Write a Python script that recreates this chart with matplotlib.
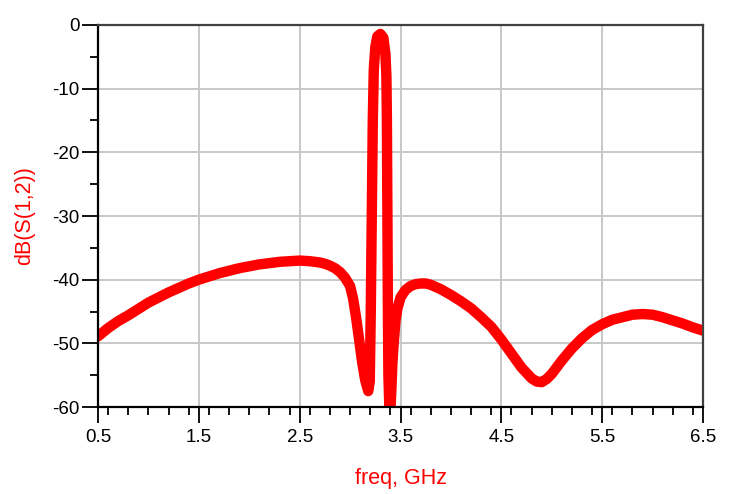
import numpy as np
import matplotlib
matplotlib.use("Agg")
import matplotlib.pyplot as plt
from matplotlib.ticker import MultipleLocator

plt.rcParams['font.family'] = ['Liberation Sans', 'DejaVu Sans']

# S21
freq = [0.5, 0.6, 0.7, 0.8, 0.9, 1.0, 1.1, 1.2, 1.3, 1.4, 1.5, 1.6, 1.7, 1.8,
        1.9, 2.0, 2.1, 2.2, 2.3, 2.4, 2.5, 2.6, 2.7, 2.75, 2.8, 2.85, 2.9,
        2.95, 3.0, 3.03, 3.06, 3.09, 3.12, 3.15, 3.18, 3.195, 3.205, 3.215,
        3.225, 3.235, 3.25, 3.27, 3.30, 3.33, 3.35, 3.36, 3.365, 3.37, 3.375,
        3.38, 3.39, 3.40, 3.41, 3.42, 3.43, 3.45, 3.47, 3.50, 3.55, 3.60,
        3.65, 3.70, 3.75, 3.8, 3.9, 4.0, 4.1, 4.2, 4.3, 4.4, 4.5, 4.6, 4.7,
        4.8, 4.85, 4.9, 4.95, 5.0, 5.1, 5.2, 5.3, 5.4, 5.5, 5.6, 5.7, 5.8,
        5.9, 6.0, 6.1, 6.2, 6.3, 6.4, 6.5]
s21_db = [-48.9, -47.6, -46.5, -45.6, -44.6, -43.6, -42.8, -42.0, -41.3, -40.6,
          -40.0, -39.5, -39.0, -38.6, -38.2, -37.9, -37.6, -37.4, -37.2, -37.1,
          -37.0, -37.1, -37.3, -37.5, -37.8, -38.2, -38.8, -39.7, -41.0, -43.0,
          -46.0, -49.5, -53.0, -55.8, -57.5, -56.0, -45.0, -30.0, -15.0, -7.0,
          -3.5, -1.8, -1.4, -2.0, -4.5, -8.0, -15.0, -30.0, -45.0, -55.0,
          -60.5, -60.5, -57.0, -53.0, -50.5, -46.5, -44.5, -42.8, -41.6, -41.0,
          -40.7, -40.6, -40.6, -40.8, -41.5, -42.4, -43.4, -44.5, -45.9, -47.4,
          -49.4, -51.6, -53.8, -55.5, -56.0, -56.1, -55.6, -54.8, -52.7, -50.8,
          -49.2, -47.9, -47.0, -46.3, -45.9, -45.5, -45.4, -45.5, -45.9, -46.4,
          -46.9, -47.5, -48.0]

xticks = [0.5, 1.5, 2.5, 3.5, 4.5, 5.5, 6.5]
yticks = [0, -10, -20, -30, -40, -50, -60]

fig = plt.figure(figsize=(7.41, 4.94), dpi=100)
ax = fig.add_axes([0.1323, 0.1761, 0.8164, 0.7733])

ax.plot(freq, s21_db, color='#ff0000', linewidth=7.5,
        solid_capstyle='round', solid_joinstyle='round')

ax.set_xlim(0.5, 6.5)
ax.set_ylim(-60, 0)
ax.set_xticks(xticks)
ax.set_xticklabels([str(t) for t in xticks])
ax.set_yticks(yticks)
ax.set_yticklabels([str(t) for t in yticks])
ax.xaxis.set_minor_locator(MultipleLocator(0.2))
ax.yaxis.set_minor_locator(MultipleLocator(5))

ax.grid(True, which='major', color='#c8c8c8', linewidth=1.4)
ax.set_axisbelow(True)

ax.tick_params(which='major', direction='out', length=11.5, width=1.3,
               labelsize=13.5, colors='black')
ax.tick_params(axis='x', which='major', pad=4)
ax.tick_params(axis='y', which='major', pad=2)
ax.tick_params(which='minor', direction='out', length=5.8, width=1.3)

for side in ['left', 'bottom']:
    ax.spines[side].set_color('black')
    ax.spines[side].set_linewidth(1.6)
for side in ['top', 'right']:
    ax.spines[side].set_color('#404040')
    ax.spines[side].set_linewidth(1.6)

ax.set_xlabel('freq, GHz', color='#ff0000', fontsize=15.5, labelpad=16)
ax.set_ylabel('dB(S(1,2))', color='#ff0000', fontsize=15.5, labelpad=12)

fig.savefig('out.png', dpi=100)
